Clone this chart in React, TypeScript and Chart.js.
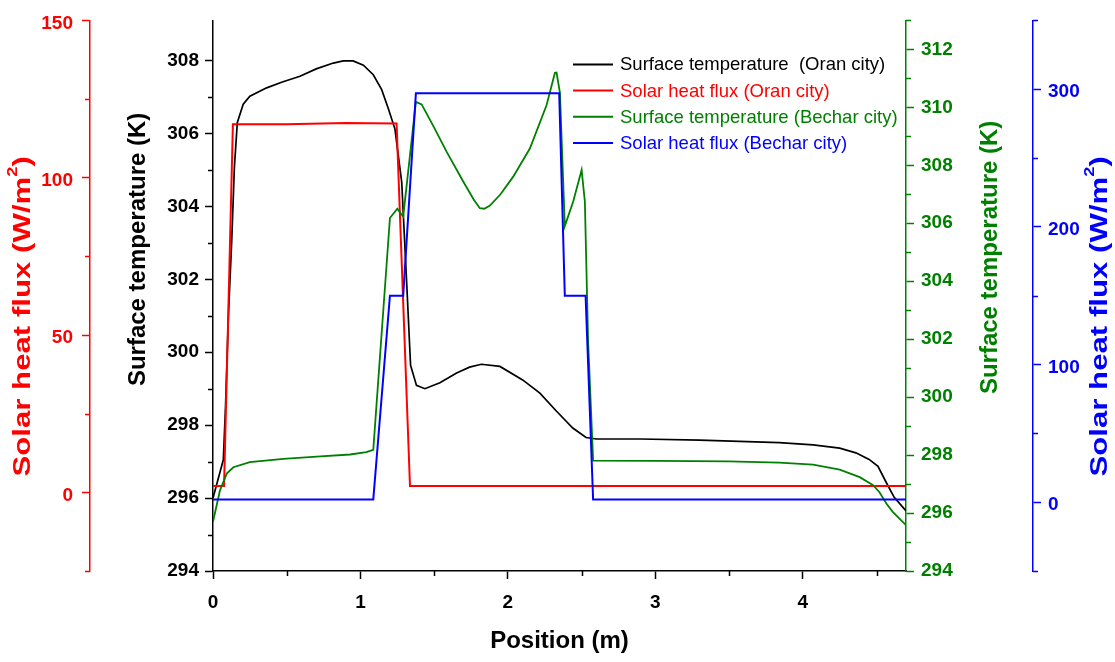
import React, { useEffect, useRef } from 'react';
import { Chart, registerables } from 'chart.js';

Chart.register(...registerables);

// ---- Data ----
const oranTempX = [0, 0.07, 0.085, 0.105, 0.127, 0.145, 0.165, 0.205, 0.25, 0.364, 0.47, 0.59, 0.70, 0.816, 0.883, 0.95, 1.02, 1.087, 1.144, 1.19, 1.234, 1.28, 1.313, 1.34, 1.38, 1.437, 1.539, 1.652, 1.74, 1.82, 1.946, 2.10, 2.217, 2.33, 2.44, 2.53, 2.6, 2.9, 3.3, 3.84, 4.07, 4.25, 4.36, 4.45, 4.51, 4.567, 4.62, 4.70];
const oranTempY = [296.0, 297.05, 298.52, 301.05, 303.06, 305.07, 306.3, 306.8, 307.02, 307.25, 307.41, 307.57, 307.77, 307.93, 307.99, 307.99, 307.87, 307.61, 307.2, 306.67, 306.12, 304.66, 301.95, 299.64, 299.09, 299.0, 299.16, 299.43, 299.59, 299.67, 299.61, 299.24, 298.88, 298.38, 297.92, 297.66, 297.62, 297.62, 297.59, 297.52, 297.46, 297.37, 297.24, 297.06, 296.87, 296.42, 296.02, 295.65];

const oranFluxX = [0, 0.075, 0.135, 0.5, 0.9, 1.245, 1.336, 4.7];
const oranFluxY = [2, 2, 117, 117, 117.4, 117.2, 2, 2];

const becharTempX = [0, 0.047, 0.093, 0.138, 0.25, 0.477, 0.703, 0.93, 1.04, 1.087, 1.2, 1.25, 1.29, 1.376, 1.415, 1.5, 1.584, 1.697, 1.77, 1.81, 1.84, 1.878, 1.95, 2.035, 2.149, 2.262, 2.319, 2.33, 2.353, 2.386, 2.443, 2.5, 2.522, 2.544, 2.578, 3.0, 3.5, 3.84, 4.07, 4.25, 4.386, 4.477, 4.52, 4.567, 4.61, 4.70];
const becharTempY = [295.7, 296.78, 297.36, 297.58, 297.76, 297.87, 297.95, 298.02, 298.1, 298.18, 306.18, 306.5, 306.23, 310.19, 310.1, 309.3, 308.47, 307.44, 306.8, 306.52, 306.5, 306.61, 307.0, 307.6, 308.58, 310.07, 311.19, 311.2, 310.5, 305.9, 306.75, 307.84, 306.75, 301.94, 297.81, 297.8, 297.78, 297.74, 297.67, 297.5, 297.24, 296.96, 296.72, 296.33, 296.04, 295.58];

const becharFluxX = [0, 1.087, 1.2, 1.29, 1.376, 2.348, 2.386, 2.527, 2.578, 4.7];
const becharFluxY = [2, 2, 150, 150, 297, 297, 150, 150, 2, 2];

const seriesLabels = [
  'Surface temperature  (Oran city)',
  'Solar heat flux (Oran city)',
  'Surface temperature (Bechar city)',
  'Solar heat flux (Bechar city)',
];

const xTicks = [0, 1, 2, 3, 4];
const tempTicks = [294, 296, 298, 300, 302, 304, 306, 308];
const oranFluxTicks = [0, 50, 100, 150];
const becharTempTicks = [294, 296, 298, 300, 302, 304, 306, 308, 310, 312];
const becharFluxTicks = [0, 100, 200, 300];

const BLACK = '#000000';
const RED = '#ff0000';
const GREEN = '#008000';
const BLUE = '#0000ff';
const FONT = "'Liberation Sans', Arial, Helvetica, sans-serif";

const pts = (xs: number[], ys: number[]) => xs.map((x, i) => ({ x, y: ys[i] }));

function drawRotatedTitle(ctx: CanvasRenderingContext2D, cx: number, cy: number, parts: { t: string; sup?: boolean }[], color: string, size: number, stretch: number) {
  ctx.save();
  ctx.translate(cx, cy);
  ctx.rotate(-Math.PI / 2);
  ctx.scale(stretch, 1);
  ctx.fillStyle = color;
  ctx.textBaseline = 'middle';
  ctx.textAlign = 'left';
  const fontMain = `bold ${size}px ${FONT}`;
  const fontSup = `bold ${Math.round(size * 0.6)}px ${FONT}`;
  let total = 0;
  const widths = parts.map((p) => {
    ctx.font = p.sup ? fontSup : fontMain;
    const w = ctx.measureText(p.t).width;
    total += w;
    return w;
  });
  let x = -total / 2;
  parts.forEach((p, i) => {
    ctx.font = p.sup ? fontSup : fontMain;
    ctx.fillText(p.t, x, p.sup ? -size * 0.42 : 0);
    x += widths[i];
  });
  ctx.restore();
}

const decor = {
  id: 'decor',
  afterDraw(chart: any) {
    const ctx: CanvasRenderingContext2D = chart.ctx;
    const ca = chart.chartArea;
    const minor = [
      { id: 'yQ', vals: [-25, 25, 75, 125], color: RED, side: 'left' },
      { id: 'yT', vals: [295, 297, 299, 301, 303, 305, 307], color: BLACK, side: 'left' },
      { id: 'yG', vals: [295, 297, 299, 301, 303, 305, 307, 309, 311, 313], color: GREEN, side: 'right' },
      { id: 'yB', vals: [-50, 50, 150, 250, 350], color: BLUE, side: 'right' },
      { id: 'x', vals: [0.5, 1.5, 2.5, 3.5, 4.5], color: BLACK, side: 'bottom' },
    ];
    ctx.save();
    ctx.lineWidth = 1.5;
    minor.forEach((m) => {
      const s = chart.scales[m.id];
      ctx.strokeStyle = m.color;
      m.vals.forEach((v) => {
        const p = Math.round(s.getPixelForValue(v)) + 0.5;
        ctx.beginPath();
        if (m.side === 'left') {
          ctx.moveTo(s.right - 5, p);
          ctx.lineTo(s.right, p);
        } else if (m.side === 'right') {
          ctx.moveTo(s.left, p);
          ctx.lineTo(s.left + 5, p);
        } else {
          ctx.moveTo(p, s.top);
          ctx.lineTo(p, s.top + 5);
        }
        ctx.stroke();
      });
    });
    ctx.restore();

    // Axis titles
    const fluxParts = [{ t: 'Solar heat flux (W/m' }, { t: '2', sup: true }, { t: ')' }];
    const tempParts = [{ t: 'Surface temperature (K)' }];
    drawRotatedTitle(ctx, chart.scales.yQ.left + 23, ca.top + 296, fluxParts, RED, 24, 1.3);
    drawRotatedTitle(ctx, chart.scales.yT.left + 48, ca.top + 229, tempParts, BLACK, 24, 1);
    drawRotatedTitle(ctx, chart.scales.yG.left + 84, ca.top + 237, tempParts, GREEN, 24, 1);
    drawRotatedTitle(ctx, chart.scales.yB.left + 67, ca.top + 296, fluxParts, BLUE, 24, 1.3);

    // Legend
    ctx.save();
    ctx.font = `18.5px ${FONT}`;
    ctx.textBaseline = 'middle';
    ctx.textAlign = 'left';
    chart.data.datasets.forEach((ds: any, i: number) => {
      const y = ca.top + 44 + i * 26.2;
      const x0 = ca.left + 360;
      ctx.strokeStyle = ds.borderColor;
      ctx.lineWidth = 2;
      ctx.beginPath();
      ctx.moveTo(x0, y);
      ctx.lineTo(x0 + 40, y);
      ctx.stroke();
      ctx.fillStyle = ds.borderColor;
      ctx.fillText(ds.label, x0 + 47, y + 1);
    });
    ctx.restore();
  },
};

const fixTicks = (vals: number[]) => (s: any) => {
  s.ticks = vals.map((v) => ({ value: v }));
};

export default function App() {
  const ref = useRef<HTMLCanvasElement>(null);
  useEffect(() => {
    const tickFont = { family: FONT, size: 19, weight: 'bold' as const };
    const yScale = (color: string, min: number, max: number, ticks: number[], position: string, weight: number, width: number, pad: number, labelOffset: number) => ({
      type: 'linear' as const,
      position,
      weight,
      min,
      max,
      afterBuildTicks: fixTicks(ticks),
      afterFit: (s: any) => { s.width = width; },
      border: { display: true, color, width: 1.5 },
      grid: { drawOnChartArea: false, drawTicks: true, tickLength: 8, tickColor: color, tickWidth: 1.5 },
      ticks: { color, font: tickFont, padding: pad, labelOffset },
    });
    const chart = new Chart(ref.current as HTMLCanvasElement, {
      type: 'line',
      data: {
        datasets: [
          { label: seriesLabels[0], data: pts(oranTempX, oranTempY), borderColor: BLACK, borderWidth: 1.7, yAxisID: 'yT', xAxisID: 'x', pointRadius: 0, tension: 0, order: 4 },
          { label: seriesLabels[1], data: pts(oranFluxX, oranFluxY), borderColor: RED, borderWidth: 2, yAxisID: 'yQ', xAxisID: 'x', pointRadius: 0, tension: 0, order: 3 },
          { label: seriesLabels[2], data: pts(becharTempX, becharTempY), borderColor: GREEN, borderWidth: 1.8, yAxisID: 'yG', xAxisID: 'x', pointRadius: 0, tension: 0, order: 2 },
          { label: seriesLabels[3], data: pts(becharFluxX, becharFluxY), borderColor: BLUE, borderWidth: 2, yAxisID: 'yB', xAxisID: 'x', pointRadius: 0, tension: 0, order: 1 },
        ],
      },
      options: {
        responsive: false,
        animation: false,
        devicePixelRatio: 1,
        layout: { padding: { top: 18, left: 0, right: 0, bottom: 0 } },
        plugins: { legend: { display: false }, tooltip: { enabled: false }, title: { display: false } },
        scales: {
          x: {
            type: 'linear',
            position: 'bottom',
            min: 0,
            max: 4.7,
            afterBuildTicks: fixTicks(xTicks),
            afterFit: (s: any) => { s.height = 91; },
            border: { display: true, color: BLACK, width: 1.5 },
            grid: { drawOnChartArea: false, drawTicks: true, tickLength: 8, tickColor: BLACK, tickWidth: 1.5 },
            ticks: { color: BLACK, font: tickFont, padding: 12, maxRotation: 0 },
            title: { display: true, text: 'Position (m)', color: BLACK, font: { family: FONT, size: 24, weight: 'bold' }, padding: { top: 0, bottom: 6 } },
          },
          yQ: yScale(RED, -25, 150, oranFluxTicks, 'left', 1, 90, 9, 3),
          yT: yScale(BLACK, 294, 309.1, tempTicks, 'left', 0, 123, 6, 0),
          yG: yScale(GREEN, 294, 313, becharTempTicks, 'right', 0, 127, 7, 0),
          yB: yScale(BLUE, -50, 350, becharFluxTicks, 'right', 1, 82, 7, 3),
        } as any,
      },
      plugins: [decor],
    });
    return () => chart.destroy();
  }, []);
  return (
    <div style={{ position: 'fixed', left: 0, top: 0, width: 1115, height: 662, background: '#ffffff' }}>
      <canvas ref={ref} width={1115} height={662} style={{ display: 'block' }} />
    </div>
  );
}
